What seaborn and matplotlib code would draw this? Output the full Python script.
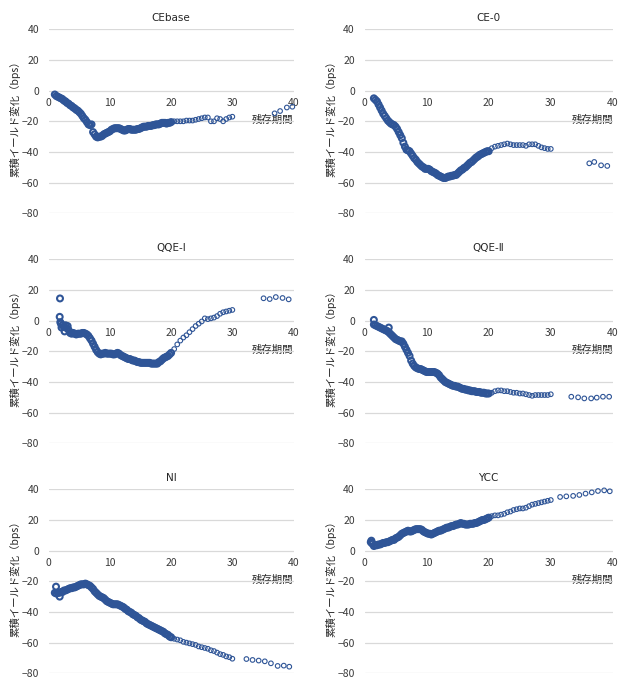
import matplotlib
matplotlib.use('Agg')
import matplotlib.pyplot as plt
import pandas as pd
import seaborn as sns

# ---- data (残存期間, 累積イールド変化 bps) ----
cebase_x = [1.0, 1.25, 1.5, 1.75, 2.0, 2.25, 2.5, 2.75, 3.0, 3.25,
            3.5, 3.75, 4.0, 4.25, 4.5, 4.75, 5.0, 5.25, 5.5, 5.75,
            6.0, 6.25, 6.5, 6.75, 7.0, 7.25, 7.5, 7.75, 8.0, 8.25,
            8.5, 8.75, 9.0, 9.25, 9.5, 9.75, 10.0, 10.25, 10.5, 10.75,
            11.0, 11.25, 11.5, 11.75, 12.0, 12.25, 12.5, 12.75, 13.0, 13.25,
            13.5, 13.75, 14.0, 14.25, 14.5, 14.75, 15.0, 15.25, 15.5, 15.75,
            16.0, 16.25, 16.5, 16.75, 17.0, 17.25, 17.5, 17.75, 18.0, 18.25,
            18.5, 18.75, 19.0, 19.25, 19.5, 19.75, 20.0,
            20.5, 21.0, 21.5, 22.0, 22.5, 23.0, 23.5, 24.0, 24.5, 25.0,
            25.5, 26.0, 26.5, 27.0, 27.5, 28.0, 28.5, 29.0, 29.5, 30.0,
            36.9, 37.8, 38.9, 39.8]
cebase_y = [-2.5, -3.5, -4, -4.5, -5, -5.5, -6.5, -7, -8, -8.5,
            -9.5, -10, -11, -11.5, -12.5, -13, -14, -15, -16.5, -18,
            -19, -20.5, -22, -22.5, -22, -27, -28.5, -30, -30.5, -30,
            -30, -29.5, -28.5, -28, -27.5, -27, -26.5, -25.5, -25, -24.5,
            -24.5, -24.5, -24.5, -25, -25.5, -26, -26, -25.5, -25, -25,
            -25.5, -25.5, -25.5, -25.5, -25, -25, -24.5, -24, -23.5, -23.5,
            -23.5, -23, -23, -23, -22.5, -22.5, -22, -22, -22, -21.5,
            -21, -21, -21, -21.5, -21, -21, -20.5,
            -20, -20, -20, -20, -19.5, -19.5, -19.5, -19, -18.5, -18,
            -17.5, -17.5, -20, -20, -18, -18.5, -20, -18.5, -17.5, -17,
            -14.8, -13.3, -11, -10.5]

ce0_x = [1.5, 1.75, 2.0, 2.25, 2.5, 2.75, 3.0, 3.25, 3.5, 3.75,
         4.0, 4.25, 4.5, 4.75, 5.0, 5.25, 5.5, 5.75, 6.0, 6.25,
         6.5, 6.75, 7.0, 7.25, 7.5, 7.75, 8.0, 8.25, 8.5, 8.75,
         9.0, 9.25, 9.5, 9.75, 10.0, 10.25, 10.5, 10.75, 11.0, 11.25,
         11.5, 11.75, 12.0, 12.25, 12.5, 12.75, 13.0, 13.25, 13.5, 13.75,
         14.0, 14.25, 14.5, 14.75, 15.0, 15.25, 15.5, 15.75, 16.0, 16.25,
         16.5, 16.75, 17.0, 17.25, 17.5, 17.75, 18.0, 18.25, 18.5, 18.75,
         19.0, 19.25, 19.5, 19.75, 20.0,
         20.5, 21.0, 21.5, 22.0, 22.5, 23.0, 23.5, 24.0, 24.5, 25.0,
         25.5, 26.0, 26.5, 27.0, 27.5, 28.0, 28.5, 29.0, 29.5, 30.0,
         36.2, 37.0, 38.1, 39.1]
ce0_y = [-5, -6, -7, -9, -11, -13, -15, -16.5, -18, -19.5,
         -20.5, -21.5, -22, -22.5, -23.5, -25, -27, -29, -31, -34,
         -36.5, -38.5, -39, -39.5, -41, -42.5, -44, -45, -46.5, -47.5,
         -48.5, -49.5, -50, -51, -51, -51, -51.5, -52.5, -53, -53.5,
         -54, -55, -55.5, -56, -56.5, -57, -57, -56.5, -56, -56,
         -55.5, -55.5, -55, -55, -54, -53, -52, -51.5, -50.5, -50,
         -49, -48, -47, -46.5, -45.5, -44.5, -43.5, -43, -42, -41.5,
         -41, -40.5, -40, -39.5, -39.5,
         -37.5, -36.5, -36, -35.5, -35, -34.5, -35, -35.5, -35.5, -35.5,
         -35.5, -36, -35, -35, -35, -36, -37, -37.5, -38, -38,
         -47.4, -46.5, -48.7, -49.1]

qqe1_x = [2.0, 2.25, 2.5, 2.75, 3.0, 3.25, 3.5, 3.75, 4.0, 4.25,
          4.5, 4.75, 5.0, 5.25, 5.5, 5.75, 6.0, 6.25, 6.5, 6.75,
          7.0, 7.25, 7.5, 7.75, 8.0, 8.25, 8.5, 8.75, 9.0, 9.25,
          9.5, 9.75, 10.0, 10.25, 10.5, 10.75, 11.0, 11.25, 11.5, 11.75,
          12.0, 12.25, 12.5, 12.75, 13.0, 13.25, 13.5, 13.75, 14.0, 14.25,
          14.5, 14.75, 15.0, 15.25, 15.5, 15.75, 16.0, 16.25, 16.5, 16.75,
          17.0, 17.25, 17.5, 17.75, 18.0, 18.25, 18.5, 18.75, 19.0, 19.25,
          19.5, 19.75, 20.0,
          20.5, 21.0, 21.5, 22.0, 22.5, 23.0, 23.5, 24.0, 24.5, 25.0,
          25.5, 26.0, 26.5, 27.0, 27.5, 28.0, 28.5, 29.0, 29.5, 30.0,
          35.1, 36.1, 37.1, 38.2, 39.2,
          1.85, 1.8, 1.9, 2.1, 2.6, 3.1]
qqe1_y = [-2, -3, -4, -3, -5, -6, -8, -8.5, -8, -8.5,
          -9, -8.5, -8.5, -8.5, -8, -8, -8.5, -9, -10, -11.5,
          -13, -15, -17, -19, -20.5, -21.5, -22, -21.5, -21.5, -21,
          -21.5, -21.5, -21.5, -21.5, -22, -22, -21.5, -21, -21.5, -22.5,
          -23, -23.5, -24, -24.5, -25, -25, -25.5, -26, -26, -26.5,
          -27, -27, -27.5, -27.5, -27.5, -27.5, -27.5, -27.5, -27.5, -28,
          -28, -28, -28, -28, -27, -26.5, -25.5, -24.5, -24, -23.5,
          -23, -22, -21,
          -18.5, -15.5, -13, -11, -9.5, -7.5, -5.5, -3.5, -2, -0.5,
          1.5, 1, 1.5, 2, 3, 4.5, 5.5, 6, 6.5, 7,
          14.6, 14.1, 15.4, 14.8, 13.9,
          14.5, 2.5, -1, -4.5, -7, -3.5]

qqe2_x = [1.5, 1.75, 2.0, 2.25, 2.5, 2.75, 3.0, 3.25, 3.5, 3.75,
          4.0, 4.25, 4.5, 4.75, 5.0, 5.25, 5.5, 5.75, 6.0, 6.25,
          6.5, 6.75, 7.0, 7.25, 7.5, 7.75, 8.0, 8.25, 8.5, 8.75,
          9.0, 9.25, 9.5, 9.75, 10.0, 10.25, 10.5, 10.75, 11.0, 11.25,
          11.5, 11.75, 12.0, 12.25, 12.5, 12.75, 13.0, 13.25, 13.5, 13.75,
          14.0, 14.25, 14.5, 14.75, 15.0, 15.25, 15.5, 15.75, 16.0, 16.25,
          16.5, 16.75, 17.0, 17.25, 17.5, 17.75, 18.0, 18.25, 18.5, 18.75,
          19.0, 19.25, 19.5, 19.75, 20.0,
          20.5, 21.0, 21.5, 22.0, 22.5, 23.0, 23.5, 24.0, 24.5, 25.0,
          25.5, 26.0, 26.5, 27.0, 27.5, 28.0, 28.5, 29.0, 29.5, 30.0,
          33.3, 34.4, 35.4, 36.5, 37.4, 38.4, 39.4,
          1.5, 3.9]
qqe2_y = [-2.5, -3, -3.5, -4, -4.5, -5, -5.5, -6, -6.5, -7,
          -8, -9, -10, -11, -12, -12.5, -13, -13.5, -13.5, -15,
          -17, -19, -21, -23, -26, -28, -29.5, -30.5, -31, -31.5,
          -31.5, -32, -32.5, -33, -33.5, -33.5, -33.5, -33.5, -33.5, -33.5,
          -34, -34.5, -35.5, -37, -38, -39, -40, -40.5, -41, -41.5,
          -42, -42.5, -42.5, -43, -43, -43.5, -44, -44.5, -44.5, -45,
          -45, -45.5, -45.5, -46, -46, -46, -46.5, -46.5, -46.5, -47,
          -47, -47, -47.5, -47.5, -47.5,
          -47, -46, -45.5, -45.5, -46, -46, -46.5, -47, -47, -47.5,
          -47.5, -48, -48.5, -49, -48.5, -48.5, -48.5, -48.5, -48.5, -48,
          -49.6, -50, -50.7, -50.7, -50.2, -49.6, -49.6,
          0.5, -4.5]

ni_x = [1.0, 1.25, 1.5, 1.75, 2.0, 2.25, 2.5, 2.75, 3.0, 3.25,
        3.5, 3.75, 4.0, 4.25, 4.5, 4.75, 5.0, 5.25, 5.5, 5.75,
        6.0, 6.25, 6.5, 6.75, 7.0, 7.25, 7.5, 7.75, 8.0, 8.25,
        8.5, 8.75, 9.0, 9.25, 9.5, 9.75, 10.0, 10.25, 10.5, 10.75,
        11.0, 11.25, 11.5, 11.75, 12.0, 12.25, 12.5, 12.75, 13.0, 13.25,
        13.5, 13.75, 14.0, 14.25, 14.5, 14.75, 15.0, 15.25, 15.5, 15.75,
        16.0, 16.25, 16.5, 16.75, 17.0, 17.25, 17.5, 17.75, 18.0, 18.25,
        18.5, 18.75, 19.0, 19.25, 19.5, 19.75, 20.0,
        20.5, 21.0, 21.5, 22.0, 22.5, 23.0, 23.5, 24.0, 24.5, 25.0,
        25.5, 26.0, 26.5, 27.0, 27.5, 28.0, 28.5, 29.0, 29.5, 30.0,
        32.3, 33.3, 34.3, 35.3, 36.3, 37.4, 38.4, 39.3,
        1.2, 1.8]
ni_y = [-27.5, -28, -27.5, -27.5, -27, -27, -26, -26, -25.5, -25,
        -24.5, -24.5, -24, -24, -23.5, -23, -22.5, -22, -22, -22,
        -21.5, -22, -22.5, -23, -24, -25, -26.5, -27.5, -28.5, -29.5,
        -30, -30.5, -31, -32, -33, -33.5, -34, -34.5, -35, -35,
        -35, -35, -35.5, -36, -36.5, -37, -38, -38.5, -39.5, -40,
        -40.5, -41.5, -42, -42.5, -43.5, -44, -45, -45.5, -46, -46.5,
        -47.5, -48, -48.5, -49, -49.5, -50, -50.5, -51, -51.5, -52,
        -52.5, -53, -54, -54.5, -55, -56, -56.5,
        -57.5, -58, -58.5, -59.5, -60, -60.5, -61, -61.5, -62.5, -63,
        -63.5, -64, -65, -65.5, -66.5, -67.5, -68, -69, -69.5, -70.5,
        -70.7, -71.3, -71.7, -72.2, -73.5, -75.2, -75, -75.7,
        -23.5, -30]

ycc_x = [1.0, 1.25, 1.5, 1.75, 2.0, 2.25, 2.5, 2.75, 3.0, 3.25,
         3.5, 3.75, 4.0, 4.25, 4.5, 4.75, 5.0, 5.25, 5.5, 5.75,
         6.0, 6.25, 6.5, 6.75, 7.0, 7.25, 7.5, 7.75, 8.0, 8.25,
         8.5, 8.75, 9.0, 9.25, 9.5, 9.75, 10.0, 10.25, 10.5, 10.75,
         11.0, 11.25, 11.5, 11.75, 12.0, 12.25, 12.5, 12.75, 13.0, 13.25,
         13.5, 13.75, 14.0, 14.25, 14.5, 14.75, 15.0, 15.25, 15.5, 15.75,
         16.0, 16.25, 16.5, 16.75, 17.0, 17.25, 17.5, 17.75, 18.0, 18.25,
         18.5, 18.75, 19.0, 19.25, 19.5, 19.75, 20.0,
         20.5, 21.0, 21.5, 22.0, 22.5, 23.0, 23.5, 24.0, 24.5, 25.0,
         25.5, 26.0, 26.5, 27.0, 27.5, 28.0, 28.5, 29.0, 29.5, 30.0,
         31.5, 32.5, 33.6, 34.6, 35.6, 36.6, 37.6, 38.6, 39.5,
         1.1, 1.2]
ycc_y = [5.5, 4.5, 3, 3.5, 3.5, 4, 4, 4.5, 5, 5,
         5.5, 5.5, 6, 6.5, 7, 7, 8, 8.5, 9, 10,
         11, 11.5, 12, 12.5, 13, 12.5, 12.5, 13, 13.5, 14,
         14, 14, 14, 13.5, 12.5, 12, 11.5, 11, 11, 10.5,
         11, 11.5, 12, 12.5, 13, 13, 13.5, 14, 14.5, 15,
         15, 15.5, 16, 16, 16.5, 17, 17, 17.5, 18, 17.5,
         17.5, 17, 17, 17, 17.5, 17.5, 17.5, 18, 18, 18.5,
         19, 19.5, 20, 20, 20.5, 21, 21.5,
         22.5, 23, 23, 23.5, 24, 25, 25.5, 26.5, 27, 27.5,
         27.5, 28, 29, 30, 30.5, 31, 31.5, 32, 32.5, 33,
         35, 35.4, 35.7, 36.3, 37.2, 38, 38.9, 39.3, 38.7,
         6.5, 5]

titles = ['CEbase', 'CE-0', 'QQE-Ⅰ', 'QQE-Ⅱ', 'NI', 'YCC']
series = [(cebase_x, cebase_y), (ce0_x, ce0_y), (qqe1_x, qqe1_y),
          (qqe2_x, qqe2_y), (ni_x, ni_y), (ycc_x, ycc_y)]
x_ticks = [0, 10, 20, 30, 40]
y_ticks = [-80, -60, -40, -20, 0, 20, 40]

sns.set_style('white')
plt.rcParams['font.family'] = ['Noto Sans CJK JP', 'DejaVu Sans']

blue = '#2F5597'
grid_c = '#D9D9D9'
text_c = '#3A3A3A'

# axes boxes in figure fraction (left col / right col, 3 rows)
lefts = [0.0785, 0.588]
widths = [0.395, 0.4005]
bottoms = [0.6886, 0.3528, 0.0171]
height = 0.2686

fig = plt.figure(figsize=(6.2, 6.85), dpi=100)
for i, (title, (xs, ys)) in enumerate(zip(titles, series)):
    row, col = i // 2, i % 2
    ax = fig.add_axes([lefts[col], bottoms[row], widths[col], height])
    df = pd.DataFrame({'残存期間': xs, 'bps': ys})
    # short maturities are packed tightly, so they read as a thick band
    dense = df[df['残存期間'] <= 20]
    sparse = df[df['残存期間'] > 20]
    sns.scatterplot(data=dense, x='残存期間', y='bps', ax=ax, marker='o', s=18,
                    color=blue, facecolors='none', edgecolor=blue,
                    linewidth=1.5, clip_on=False, zorder=3)
    sns.scatterplot(data=sparse, x='残存期間', y='bps', ax=ax, marker='o', s=11,
                    color=blue, facecolors='none', edgecolor=blue,
                    linewidth=0.8, clip_on=False, zorder=3)
    ax.set_xlim(0, 40)
    ax.set_ylim(-80, 40)
    ax.set_xticks(x_ticks)
    ax.set_yticks(y_ticks)
    # no frame, horizontal gridlines only, x axis sits on y=0
    for s in ['top', 'right', 'left']:
        ax.spines[s].set_visible(False)
    ax.spines['bottom'].set_position(('data', 0))
    ax.spines['bottom'].set_visible(False)
    ax.yaxis.grid(True, color=grid_c, linewidth=0.9)
    ax.xaxis.grid(False)
    ax.set_axisbelow(True)
    ax.tick_params(axis='both', length=0, labelsize=7.5, colors=text_c)
    ax.tick_params(axis='x', pad=5)
    ax.tick_params(axis='y', pad=7)
    ax.set_title(title, fontsize=7.5, color='#262626', pad=6,
                 family=['DejaVu Sans', 'Noto Sans CJK JP'])
    ax.set_ylabel('累積イールド変化（bps）', fontsize=7.5, color='#262626')
    ax.yaxis.set_label_coords(-0.115, 0.53)
    ax.set_xlabel('残存期間', fontsize=7.5, color='#262626', loc='right')
    ax.xaxis.set_label_coords(1.0, 0.535)

fig.savefig('out.png', dpi=100)
